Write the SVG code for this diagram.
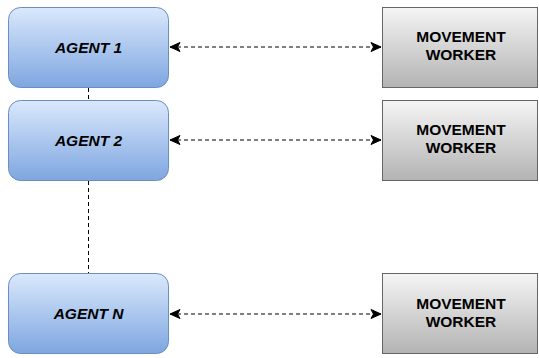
<svg xmlns="http://www.w3.org/2000/svg" width="539" height="358" viewBox="0 0 539 358">
  <style>
    .agent { fill: url(#blueGrad); stroke: #6c8ebf; stroke-width: 1; }
    .worker { fill: url(#grayGrad); stroke: #666666; stroke-width: 1; }
    .agent-label { font-family: "Liberation Sans", Arial, sans-serif; font-size: 15.5px; font-weight: bold; font-style: italic; fill: #000; text-anchor: middle; }
    .worker-label { font-family: "Liberation Sans", Arial, sans-serif; font-size: 15.5px; font-weight: bold; fill: #000; text-anchor: middle; }
    .link { stroke: #000; stroke-width: 1; stroke-dasharray: 4 3; fill: none; }
  </style>
  <defs>
    <linearGradient id="blueGrad" x1="0" y1="0" x2="0" y2="1">
      <stop offset="0" stop-color="#dae8fc"/>
      <stop offset="1" stop-color="#7ea6e0"/>
    </linearGradient>
    <linearGradient id="grayGrad" x1="0" y1="0" x2="0" y2="1">
      <stop offset="0" stop-color="#f5f5f5"/>
      <stop offset="1" stop-color="#b3b3b3"/>
    </linearGradient>
    <marker id="arrow" viewBox="0 0 12 12" refX="11" refY="6" markerWidth="12" markerHeight="12" markerUnits="userSpaceOnUse" orient="auto-start-reverse">
      <path d="M1 1.5 L11 6 L1 10.5 L3.5 6 Z" fill="#000" stroke="#000" stroke-width="1" stroke-linejoin="miter"/>
    </marker>
  </defs>

  <!-- connectors -->
  <g id="connectors">
    <line class="link" x1="88.5" y1="88" x2="88.5" y2="100"/>
    <line class="link" x1="88.5" y1="181" x2="88.5" y2="273"/>
    <line class="link" x1="170" y1="47" x2="381" y2="47" marker-start="url(#arrow)" marker-end="url(#arrow)"/>
    <line class="link" x1="170" y1="140" x2="381" y2="140" marker-start="url(#arrow)" marker-end="url(#arrow)"/>
    <line class="link" x1="170" y1="314" x2="381" y2="314" marker-start="url(#arrow)" marker-end="url(#arrow)"/>
  </g>

  <!-- agents -->
  <g id="agent-1">
    <rect class="agent" x="8.5" y="7.5" width="160" height="80" rx="12" ry="12"/>
    <text class="agent-label" x="88.5" y="53">AGENT 1</text>
  </g>
  <g id="agent-2">
    <rect class="agent" x="8.5" y="100.5" width="160" height="80" rx="12" ry="12"/>
    <text class="agent-label" x="88.5" y="146">AGENT 2</text>
  </g>
  <g id="agent-n">
    <rect class="agent" x="8.5" y="273.5" width="160" height="80" rx="12" ry="12"/>
    <text class="agent-label" x="88.5" y="319">AGENT N</text>
  </g>

  <!-- movement workers -->
  <g id="worker-1">
    <rect class="worker" x="382.5" y="7.5" width="155" height="80"/>
    <text class="worker-label" x="461" y="42">MOVEMENT</text>
    <text class="worker-label" x="461" y="60">WORKER</text>
  </g>
  <g id="worker-2">
    <rect class="worker" x="382.5" y="100.5" width="155" height="80"/>
    <text class="worker-label" x="461" y="135">MOVEMENT</text>
    <text class="worker-label" x="461" y="153">WORKER</text>
  </g>
  <g id="worker-n">
    <rect class="worker" x="382.5" y="273.5" width="155" height="80"/>
    <text class="worker-label" x="461" y="309">MOVEMENT</text>
    <text class="worker-label" x="461" y="327">WORKER</text>
  </g>
</svg>
